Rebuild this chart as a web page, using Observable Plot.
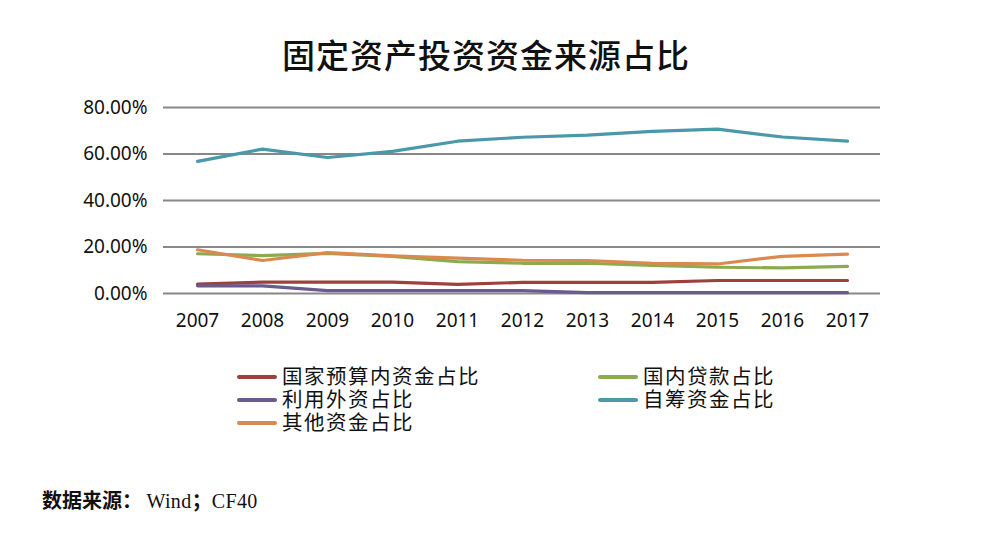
<!DOCTYPE html>
<html>
<head>
<meta charset="utf-8">
<script src="https://cdn.jsdelivr.net/npm/d3@7"></script>
<script src="https://cdn.jsdelivr.net/npm/@observablehq/plot@0.6"></script>
<style>
  html, body { margin: 0; padding: 0; background: #fff; }
  body { width: 990px; height: 536px; position: relative; overflow: hidden; font-family: "Noto Sans CJK SC", sans-serif; }
  #title { position: absolute; top: 30px; left: 0; width: 972px; text-align: center; font-size: 33px; font-weight: 500; color: #111; letter-spacing: 1px; }
  #chart { position: absolute; top: 90px; left: 0; }
  #legend { position: absolute; top: 366px; left: 237px; width: 600px; }
  .item { position: absolute; display: flex; align-items: center; font-family: "Liberation Sans", "Noto Sans CJK SC", sans-serif; font-size: 20.5px; letter-spacing: 1.5px; color: #111; height: 22px; }
  .item span { display: inline-block; height: 22px; line-height: 22px; overflow: visible; }
  .sw { width: 40px; height: 4px; border-radius: 2px; margin-right: 5px; }
  #caption { position: absolute; top: 485px; left: 42px; font-size: 20px; color: #111; font-family: "Liberation Serif", serif; letter-spacing: 0.4px; }
  #caption .cjk { font-family: "Noto Sans CJK SC", sans-serif; font-weight: 700; letter-spacing: 0; }
</style>
</head>
<body>
<div id="title">固定资产投资资金来源占比</div>
<div id="chart"></div>
<div id="legend"></div>
<div id="caption"><span class="cjk">数据来源：</span>&#8201;Wind<span class="cjk">；</span>CF40</div>
<script>
const years = ["2007","2008","2009","2010","2011","2012","2013","2014","2015","2016","2017"];
const seriesNames = ["国家预算内资金占比","国内贷款占比","利用外资占比","自筹资金占比","其他资金占比"];
const seriesColors = ["#a0403c","#8cab50","#6b5a8e","#4a98aa","#da8a4f"];
const budget   = [4.0, 4.9, 4.9, 4.9, 3.9, 4.8, 4.8, 4.8, 5.6, 5.6, 5.6];
const loans    = [17.1, 16.3, 17.3, 16.0, 13.7, 13.0, 13.0, 12.1, 11.3, 11.0, 11.7];
const foreign  = [3.3, 3.3, 1.2, 1.2, 1.2, 1.2, 0.4, 0.4, 0.4, 0.4, 0.4];
const selfFund = [56.8, 62.1, 58.5, 61.1, 65.5, 67.2, 68.1, 69.7, 70.7, 67.3, 65.5];
const other    = [18.8, 14.2, 17.6, 16.2, 15.2, 14.3, 14.2, 13.0, 12.7, 16.0, 16.9];
const yTicks = [0, 20, 40, 60, 80];

const seriesValues = [budget, loans, foreign, selfFund, other];
const table = [];
seriesNames.forEach((name, i) => {
  years.forEach((yr, j) => table.push({series: name, year: yr, value: seriesValues[i][j]}));
});

const chart = Plot.plot({
  width: 990,
  height: 250,
  marginTop: 17,
  marginBottom: 47,
  marginLeft: 163,
  marginRight: 110,
  style: { fontFamily: "'Noto Sans', 'Open Sans', sans-serif", fontSize: "19px", color: "#111", background: "#fff" },
  x: { type: "point", domain: years, padding: 0.5, label: null, tickSize: 0, tickPadding: 20 },
  y: { domain: [0, 80], ticks: yTicks, tickFormat: d => d.toFixed(2) + "%", label: null, tickSize: 0, tickPadding: 16 },
  color: { domain: seriesNames, range: seriesColors },
  marks: [
    Plot.ruleY(yTicks, { stroke: "#888", strokeWidth: 2 }),
    Plot.line(table, { x: "year", y: "value", z: "series", stroke: "series", strokeWidth: 3.2, strokeLinejoin: "round", strokeLinecap: "round" })
  ]
});
document.getElementById("chart").appendChild(chart);

const legend = document.getElementById("legend");
const positions = [[0, 0], [361, 0], [0, 23], [361, 23], [0, 46]];
seriesNames.forEach((name, i) => {
  const d = document.createElement("div");
  d.className = "item";
  d.style.left = positions[i][0] + "px";
  d.style.top = positions[i][1] + "px";
  const sw = document.createElement("div");
  sw.className = "sw";
  sw.style.background = seriesColors[i];
  d.appendChild(sw);
  const t = document.createElement("span");
  t.textContent = name;
  d.appendChild(t);
  legend.appendChild(d);
});
</script>
</body>
</html>
